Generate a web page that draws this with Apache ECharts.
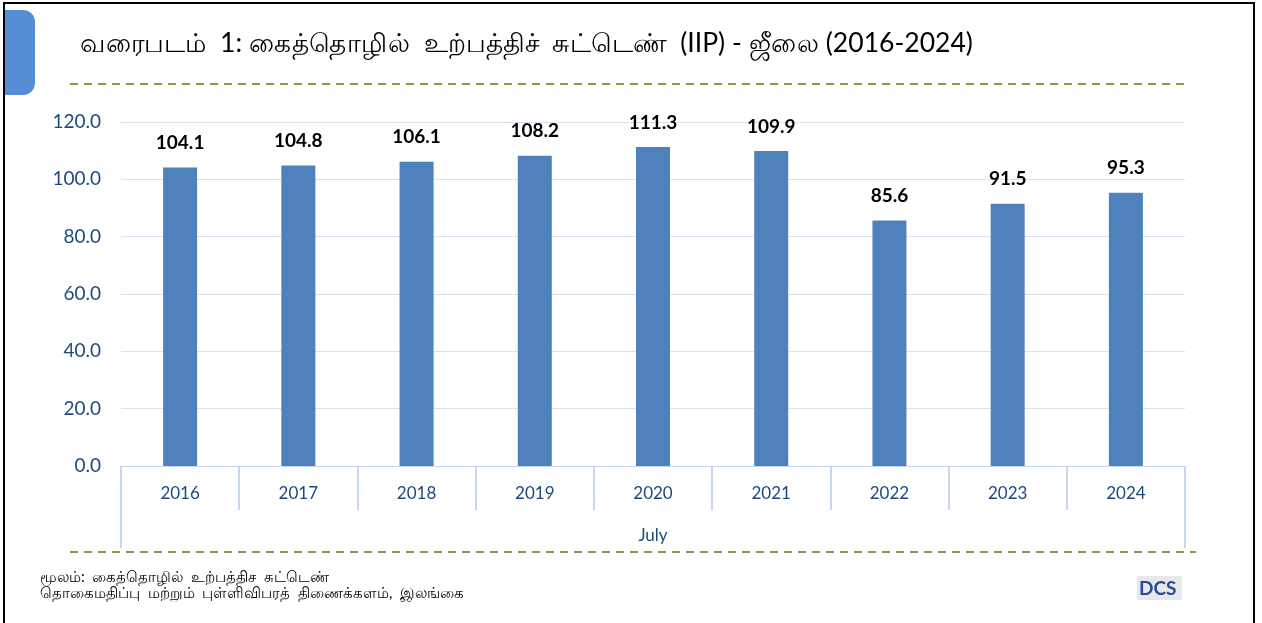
<!DOCTYPE html>
<html>
<head>
<meta charset="utf-8">
<script src="https://cdn.jsdelivr.net/npm/echarts@6/dist/echarts.min.js"></script>
<style>
  html, body { margin: 0; padding: 0; background: #fff; }
  #chart { width: 1262px; height: 623px; }
</style>
</head>
<body>
<div id="chart"></div>
<script>
// chart values
var years = ['2016', '2017', '2018', '2019', '2020', '2021', '2022', '2023', '2024']
var iipJuly = [104.1, 104.8, 106.1, 108.2, 111.3, 109.9, 85.6, 91.5, 95.3]
var groupLabel = ['July']
var titleText = 'வரைபடம்  1: கைத்தொழில்  உற்பத்திச்  சுட்டெண்  (IIP) - ஜீலை (2016-2024)'
var sourceLines = ['மூலம்:  கைத்தொழில்  உற்பத்திச  சுட்டெண்', 'தொகைமதிப்பு  மற்றும்  புள்ளிவிபரத்  திணைக்களம்,  இலங்கை']

var axisBlue = '#1f497d'
var lineBlue = '#c6d6ec'
var font = 'Lato, "Noto Sans", sans-serif'

var chart = echarts.init(document.getElementById('chart'))

var option = {
    animation: false,
    backgroundColor: '#fff',
    textStyle: { fontFamily: font },
    grid: { left: 121, right: 77, top: 122, bottom: 157, containLabel: false },
    xAxis: [
        {
            type: 'category',
            data: years,
            position: 'bottom',
            axisLine: { show: true, lineStyle: { color: lineBlue, width: 1 } },
            axisTick: { show: true, length: 44, lineStyle: { color: lineBlue, width: 2 } },
            axisLabel: { color: axisBlue, fontSize: 17, margin: 19, fontFamily: font }
        },
        {
            type: 'category',
            data: groupLabel,
            position: 'bottom',
            axisLine: { show: false },
            axisTick: { show: true, length: 82, lineStyle: { color: lineBlue, width: 2 } },
            axisLabel: { color: axisBlue, fontSize: 17, margin: 61, fontFamily: font }
        }
    ],
    yAxis: {
        type: 'value',
        min: 0,
        max: 120,
        interval: 20,
        axisLine: { show: false },
        axisTick: { show: false },
        splitLine: { lineStyle: { color: '#d9e1f0', width: 1 } },
        axisLabel: {
            color: axisBlue, fontSize: 19, margin: 20, fontFamily: font,
            formatter: function (v) { return v.toFixed(1) }
        }
    },
    series: [
        {
            type: 'bar',
            xAxisIndex: 0,
            data: iipJuly,
            barWidth: 34,
            itemStyle: { color: '#4f81bd' },
            label: {
                show: true,
                position: 'top',
                distance: 15,
                color: '#000',
                fontSize: 19,
                fontWeight: 'bold',
                fontFamily: font,
                formatter: function (p) { return p.value.toFixed(1) }
            }
        }
    ],
    graphic: [
        // frame around the slide
        { type: 'rect', shape: { x: 4, y: 3, width: 1250, height: 640 },
          style: { fill: 'none', stroke: '#000', lineWidth: 2 }, silent: true },
        // blue tab in the corner
        { type: 'rect', shape: { x: 5, y: 10, width: 30, height: 85, r: [0, 12, 12, 0] },
          style: { fill: '#558ed5' }, silent: true },
        { type: 'text', x: 80, y: 31, scaleX: 1.02,
          style: { text: titleText, fontSize: 26, fill: '#000', fontFamily: font } },
        { type: 'line', shape: { x1: 70, y1: 84, x2: 1184, y2: 84 },
          style: { stroke: '#7f9f3f', lineWidth: 2, lineDash: [8, 6] }, silent: true },
        { type: 'line', shape: { x1: 70, y1: 552, x2: 1196, y2: 552 },
          style: { stroke: '#7f9f3f', lineWidth: 2, lineDash: [8, 6] }, silent: true },
        { type: 'text', x: 40, y: 569,
          style: { text: sourceLines.join('\n'), fontSize: 15, lineHeight: 16, fill: '#000', fontFamily: font } },
        // DCS logo stand-in
        { type: 'rect', shape: { x: 1137, y: 576, width: 45, height: 24 },
          style: { fill: '#e8e8ea' }, silent: true },
        { type: 'text', x: 1139, y: 579,
          style: { text: 'DCS', fontSize: 19, fontWeight: 'bold', fill: '#2a4a94', fontFamily: font } }
    ]
}

chart.setOption(option)
</script>
</body>
</html>
